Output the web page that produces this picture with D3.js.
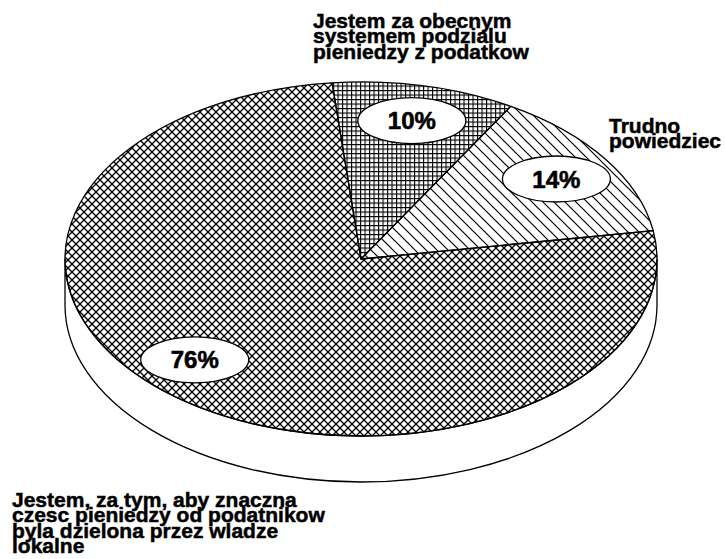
<!DOCTYPE html>
<html>
<head>
<meta charset="utf-8">
<script src="https://cdn.jsdelivr.net/npm/d3@7"></script>
<style>
  body { margin: 0; background: #fff; }
  text { font-family: "Liberation Sans", Arial, sans-serif; font-weight: bold; }
</style>
</head>
<body>
<div id="chart"></div>
<script>
const categories = [
  ["Jestem za obecnym", "systemem podzialu", "pieniedzy z podatkow"],
  ["Trudno", "powiedziec"],
  ["Jestem, za tym, aby znaczna", "czesc pieniedzy od podatnikow", "byla dzielona przez wladze", "lokalne"]
]
const values = [10, 14, 76]
const valueLabels = ["10%", "14%", "76%"]
const patterns = ["grid", "diag", "cross"]

const width = 725, height = 559
const cx = 361, cy = 259, rx = 296, ry = 177, depth = 46
const startDeg = -5.6

const svg = d3.select("#chart").append("svg")
    .attr("width", width)
    .attr("height", height)

const defs = svg.append("defs")

// square grid
defs.append("pattern")
    .attr("id", "grid")
    .attr("patternUnits", "userSpaceOnUse")
    .attr("width", 4.5).attr("height", 4.5)
  .append("path")
    .attr("d", "M0,0.5H4.5M0.5,0V4.5")
    .attr("stroke", "#000").attr("stroke-width", 1.2).attr("fill", "none")

// single diagonal lines
const dp = defs.append("pattern")
    .attr("id", "diag")
    .attr("patternUnits", "userSpaceOnUse")
    .attr("width", 11).attr("height", 11)
dp.append("path")
    .attr("d", "M-1,-1L12,12M-1,10L1,12M10,-1L12,1")
    .attr("stroke", "#000").attr("stroke-width", 1.2).attr("fill", "none")

// diagonal cross hatch
const cp = defs.append("pattern")
    .attr("id", "cross")
    .attr("patternUnits", "userSpaceOnUse")
    .attr("width", 8).attr("height", 8)
cp.append("path")
    .attr("d", "M-1,-1L9,9M9,-1L-1,9")
    .attr("stroke", "#000").attr("stroke-width", 1.35).attr("fill", "none")

// unit circle -> screen ellipse
const xs = d3.scaleLinear().domain([-1, 1]).range([cx - rx, cx + rx])
const ys = d3.scaleLinear().domain([-1, 1]).range([cy - ry, cy + ry])
const px = a => xs(Math.sin(a))
const py = a => ys(-Math.cos(a))

const a0 = startDeg * Math.PI / 180
const pie = d3.pie().sort(null).startAngle(a0).endAngle(a0 + 2 * Math.PI)
const arcs = pie(values)

// side of the disc (front half)
svg.append("path")
    .attr("d", `M${xs(1)},${cy}L${xs(1)},${cy + depth}` +
               `A${rx},${ry} 0 0 1 ${xs(-1)},${cy + depth}` +
               `L${xs(-1)},${cy}A${rx},${ry} 0 0 0 ${xs(1)},${cy}Z`)
    .attr("fill", "#fff")
    .attr("stroke", "#000")
    .attr("stroke-width", 1.3)

function slicePath(d) {
  const large = d.endAngle - d.startAngle > Math.PI ? 1 : 0
  return `M${cx},${cy}L${px(d.startAngle)},${py(d.startAngle)}` +
         `A${rx},${ry} 0 ${large} 1 ${px(d.endAngle)},${py(d.endAngle)}Z`
}

svg.selectAll("path.slice")
  .data(arcs)
  .enter().append("path")
    .attr("class", "slice")
    .attr("d", slicePath)
    .attr("fill", (d, i) => `url(#${patterns[i]})`)
    .attr("stroke", "#000")
    .attr("stroke-width", 1.3)
    .attr("stroke-linejoin", "round")

// value labels in white ovals
const nudge = [0, 0, 7]
const lab = svg.selectAll("g.vlab")
  .data(arcs)
  .enter().append("g")
    .attr("class", "vlab")
    .attr("transform", (d, i) => {
      const m = (d.startAngle + d.endAngle) / 2 + nudge[i] * Math.PI / 180
      return `translate(${xs(0.8 * Math.sin(m))},${ys(-0.8 * Math.cos(m))})`
    })
lab.append("ellipse")
    .attr("rx", 54).attr("ry", 23)
    .attr("fill", "#fff").attr("stroke", "#000").attr("stroke-width", 1.3)
lab.append("text")
    .attr("text-anchor", "middle")
    .attr("dy", "0.36em")
    .attr("font-size", 24)
    .attr("stroke", "#000").attr("stroke-width", 0.6)
    .text((d, i) => valueLabels[i])

// category labels
const catPos = [[313, 28], [609, 133], [12, 507]]
categories.forEach((lines, i) => {
  const t = svg.append("text")
      .attr("x", catPos[i][0])
      .attr("y", catPos[i][1])
      .attr("font-size", 21)
      .attr("stroke", "#000")
      .attr("stroke-width", 0.5)
  lines.forEach((s, j) => {
    t.append("tspan")
        .attr("x", catPos[i][0])
        .attr("dy", j === 0 ? 0 : 15.3)
        .text(s)
  })
})
</script>
</body>
</html>
